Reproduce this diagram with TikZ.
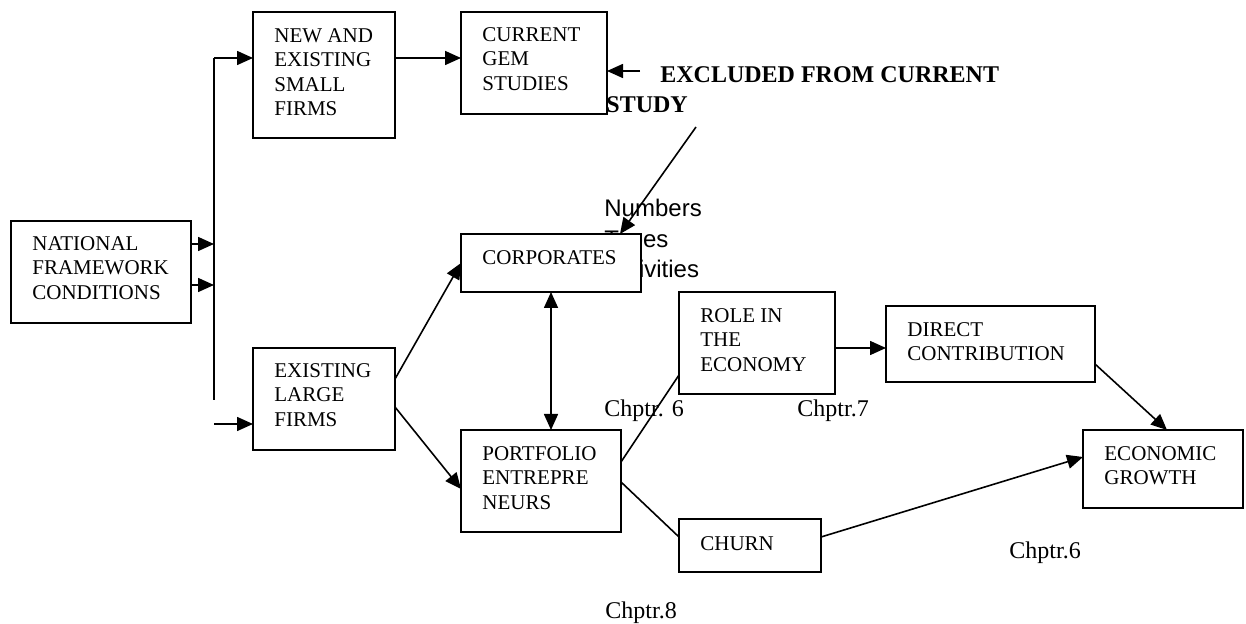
\documentclass[tikz,border=0pt]{standalone}
\usepackage{fontspec}
\setmainfont{Liberation Serif}
\newfontfamily\sansf{Liberation Sans}
\usetikzlibrary{arrows.meta,calc}
\tikzset{
  box/.style={draw, line width=1pt, fill=white, anchor=north west, inner sep=0pt, outer sep=0pt},
  btxt/.style={anchor=north west, inner sep=0pt, align=left, font=\fontsize{10.5}{12.2}\selectfont},
  conn/.style={line width=0.8pt},
  arr/.style={conn, -{Triangle[length=8pt,width=7pt]}},
  darr/.style={conn, {Triangle[length=8pt,width=7pt]}-{Triangle[length=8pt,width=7pt]}},
  lbl/.style={anchor=base west, inner sep=0pt, font=\fontsize{12}{14}\selectfont},
}
\begin{document}
\begin{tikzpicture}[x=0.5pt,y=-0.5pt]
\useasboundingbox (0,0) rectangle (1246,624);

% side text under the corporates box
\node[anchor=north west, inner sep=0pt, align=left, font=\sansf\fontsize{12}{15.25}\selectfont] (num) at (604,199) {Numbers\\Types\\Activities};

% boxes
\node[box, minimum width=71pt, minimum height=63pt] (ne) at (253,12) {};
\node[box, minimum width=73pt, minimum height=51pt] (gem) at (461,12) {};
\node[box, minimum width=90pt, minimum height=51pt] (nfc) at (11,221) {};
\node[box, minimum width=71pt, minimum height=51pt] (el) at (253,348) {};
\node[box, minimum width=90pt, minimum height=29pt] (corp) at (461,234) {};
\node[box, minimum width=80pt, minimum height=51pt] (port) at (461,430) {};
\node[box, minimum width=78pt, minimum height=51pt] (role) at (679,292) {};
\node[box, minimum width=71pt, minimum height=26.5pt] (churn) at (679,519) {};
\node[box, minimum width=104.5pt, minimum height=38pt] (direct) at (886,306) {};
\node[box, minimum width=80pt, minimum height=39pt] (econ) at (1083,430) {};

% box texts
\node[btxt] (tne) at ($(ne.north west)+(21,16)$) {NEW AND\\EXISTING\\SMALL\\FIRMS};
\node[btxt] (tgem) at ($(gem.north west)+(21,15)$) {CURRENT\\GEM\\STUDIES};
\node[btxt] (tnfc) at ($(nfc.north west)+(21,15)$) {NATIONAL\\FRAMEWORK\\CONDITIONS};
\node[btxt] (tel) at ($(el.north west)+(21,15)$) {EXISTING\\LARGE\\FIRMS};
\node[btxt] (tcorp) at ($(corp.north west)+(21,16)$) {CORPORATES};
\node[btxt] (tport) at ($(port.north west)+(21,16)$) {PORTFOLIO\\ENTREPRE\\NEURS};
\node[btxt] (trole) at ($(role.north west)+(21,16)$) {ROLE IN\\THE\\ECONOMY};
\node[btxt] (tchurn) at ($(churn.north west)+(21,17)$) {CHURN};
\node[btxt] (tdirect) at ($(direct.north west)+(21,16)$) {DIRECT\\CONTRIBUTION};
\node[btxt] (tecon) at ($(econ.north west)+(21,16)$) {ECONOMIC\\GROWTH};

% excluded label
\node[anchor=base west, inner sep=0pt, font=\bfseries\fontsize{12}{14}\selectfont] (ex1) at (660,83) {EXCLUDED FROM CURRENT};
\node[anchor=base west, inner sep=0pt, font=\bfseries\fontsize{12}{14}\selectfont] (ex2) at (606,113) {STUDY};

% chapter labels
\node[lbl] (c6a) at (604,417) {Chptr. 6};
\node[lbl] (c7) at (797,417) {Chptr.7};
\node[lbl] (c6b) at (1009,558) {Chptr.6};
\node[lbl] (c8) at (605,618) {Chptr.8};

% bus on the left
\coordinate (bt) at (214,58);
\coordinate (bb) at (214,400);
\coordinate (el0) at (214,424);
\draw[conn] (bt) -- (bb);
\draw[arr] ($(nfc.north east)+(0,23)$) coordinate (a1) -- (a1 -| bt);
\draw[arr] ($(nfc.north east)+(0,64)$) coordinate (a2) -- (a2 -| bt);
\draw[arr] (bt) -- (bt -| ne.west);
\draw[arr] (el0) -- (el0 -| el.west);

% top row
\draw[arr] (ne.east |- bt) -- (gem.west |- bt);
\coordinate (exs) at (640,71);
\draw[arr] (exs) -- (exs -| gem.east);
\coordinate (ext) at (696,127);
\draw[arr] (ext) -- ($(corp.north west)+(159,0)$);

% middle
\draw[arr] ($(el.north east)+(0,31)$) -- ($(corp.north west)+(0,29)$);
\draw[arr] ($(el.north east)+(0,59)$) -- ($(port.north west)+(0,59)$);
\draw[darr] ($(corp.south west)+(90,0)$) -- ($(port.north west)+(90,0)$);
\draw[conn] ($(port.north east)+(0,32)$) -- ($(role.north west)+(0,83)$);
\draw[conn] ($(port.north east)+(0,52)$) -- ($(churn.north west)+(0,18)$);

% right
\draw[arr] ($(role.north east)+(0,56)$) coordinate (r1) -- (r1 -| direct.west);
\draw[arr] ($(direct.north east)+(0,58)$) -- ($(econ.north west)+(84,0)$);
\draw[arr] ($(churn.north east)+(0,18)$) -- ($(econ.north west)+(0,27)$);
\end{tikzpicture}
\end{document}
